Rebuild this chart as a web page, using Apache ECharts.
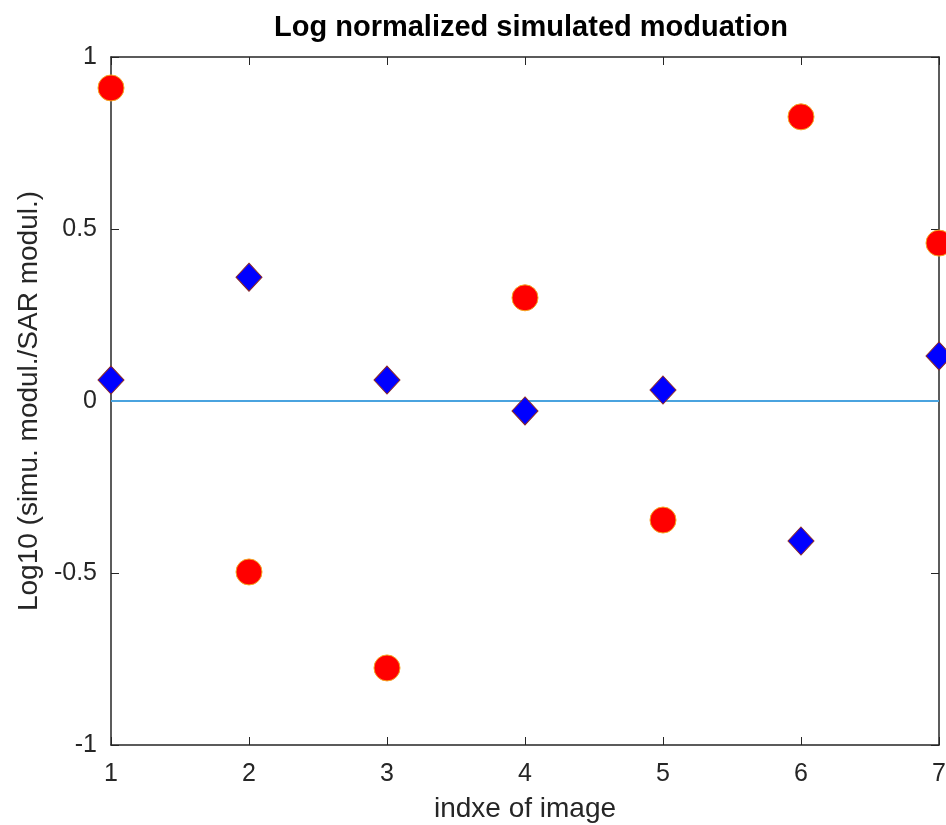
<!DOCTYPE html>
<html><head><meta charset="utf-8">
<script src="https://cdn.jsdelivr.net/npm/echarts@6/dist/echarts.min.js"></script>
<style>html,body{margin:0;padding:0;background:#fff}#c{width:946px;height:825px}</style>
</head><body><div id="c"></div>
<script>
const imageIndex = [1, 2, 3, 4, 5, 6, 7];
const redCircles = [0.91, -0.497, -0.776, 0.30, -0.346, 0.826, 0.459];
const blueDiamonds = [0.061, 0.36, 0.061, -0.029, 0.032, -0.407, 0.131];
const zeroLine = [0, 0, 0, 0, 0, 0, 0];
const xTicks = [1, 2, 3, 4, 5, 6, 7];
const yTicks = [-1, -0.5, 0, 0.5, 1];

const font = 'Liberation Sans, Arial, sans-serif';
function axisCommon() {
  return {
    axisLine: {show: true, onZero: false, lineStyle: {color: '#262626', width: 1.5}},
    axisTick: {show: true, inside: true, length: 8, lineStyle: {color: '#262626'}},
    splitLine: {show: false}
  };
}
const chart = echarts.init(document.getElementById('c'));
chart.setOption({
  animation: false,
  backgroundColor: '#fff',
  title: {text: 'Log normalized simulated moduation', left: 526, top: 8, textAlign: 'center',
    textStyle: {fontFamily: font, fontSize: 29, fontWeight: 'bold', color: '#000'}},
  grid: {left: 111, right: 7, top: 57, bottom: 80, outerBoundsMode: 'none', containLabel: false},
  xAxis: [
    Object.assign({type: 'value', min: xTicks[0], max: xTicks[xTicks.length-1], interval: 1, position: 'bottom',
      name: 'indxe of image', nameLocation: 'middle', nameGap: 50,
      nameTextStyle: {fontFamily: font, fontSize: 28, color: '#262626'},
      axisLabel: {fontFamily: font, fontSize: 25, color: '#262626', margin: 17}}, axisCommon()),
    Object.assign({type: 'value', min: 1, max: 7, interval: 1, position: 'top', axisLabel: {show: false}}, axisCommon())
  ],
  yAxis: [
    Object.assign({type: 'value', min: yTicks[0], max: yTicks[yTicks.length-1], interval: 0.5, position: 'left',
      name: 'Log10 (simu. modul./SAR modul.)', nameLocation: 'middle', nameGap: 64,
      nameTextStyle: {fontFamily: font, fontSize: 28, color: '#262626'},
      axisLabel: {fontFamily: font, fontSize: 25, color: '#262626', margin: 14}}, axisCommon()),
    Object.assign({type: 'value', min: -1, max: 1, interval: 0.5, position: 'right', axisLabel: {show: false}}, axisCommon())
  ],
  series: [
    {type: 'line', data: imageIndex.map((x, i) => [x, zeroLine[i]]), symbol: 'none',
      lineStyle: {color: '#4aa3df', width: 2}, z: 1},
    {type: 'scatter', data: imageIndex.map((x, i) => [x, redCircles[i]]), symbol: 'circle', symbolSize: 26,
      itemStyle: {color: '#ff0000', opacity: 1, borderColor: '#f5a623', borderWidth: 1}, z: 3},
    {type: 'scatter', data: imageIndex.map((x, i) => [x, blueDiamonds[i]]), symbol: 'diamond', symbolSize: [26, 28],
      itemStyle: {color: '#0000ff', opacity: 1, borderColor: '#8a2a2a', borderWidth: 1}, z: 3}
  ]
});
</script></body></html>
